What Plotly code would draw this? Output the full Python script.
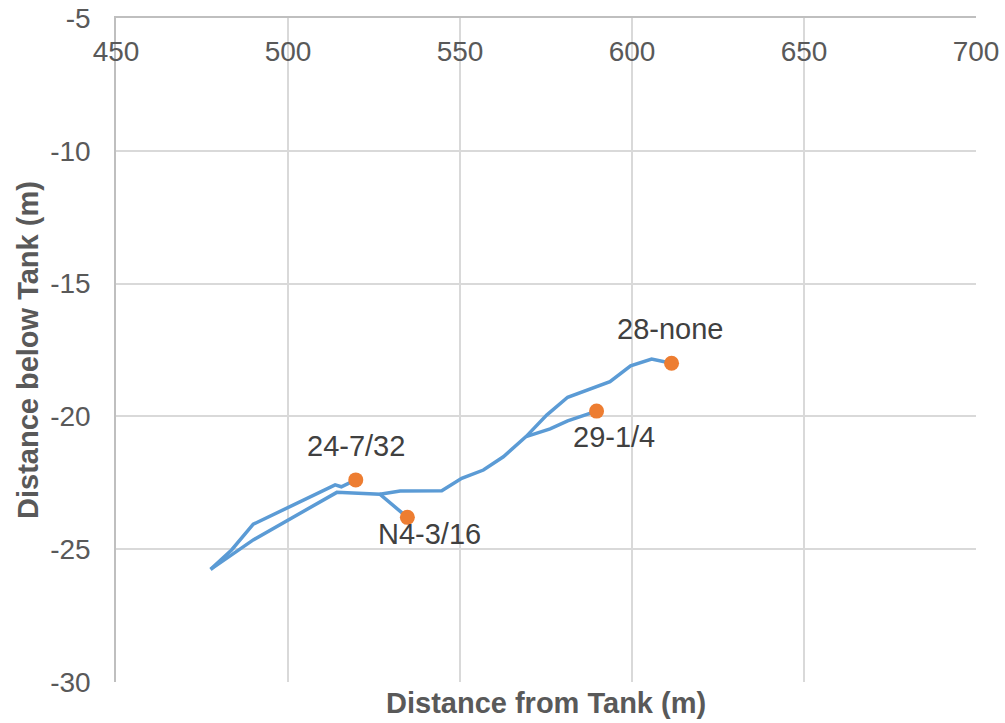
import plotly.graph_objects as go

# well paths (distance from tank, distance below tank)
path_a_x = [519.7, 515.5, 513.7, 489.9, 483.6, 477.5]
path_a_y = [-22.39, -22.65, -22.58, -24.06, -25.03, -25.76]

path_b_x = [477.5, 489.9, 514.2, 526.7, 534.7]
path_b_y = [-25.76, -24.65, -22.86, -22.93, -23.80]

path_c_x = [526.7, 532.6, 544.7, 550.5, 556.8, 562.6, 569.2, 575.2, 581.3, 593.6, 599.6, 605.7, 611.5]
path_c_y = [-22.93, -22.81, -22.80, -22.33, -22.02, -21.52, -20.76, -19.95, -19.28, -18.69, -18.10, -17.84, -18.00]

path_d_x = [569.2, 576.2, 581.3, 589.7]
path_d_y = [-20.76, -20.47, -20.17, -19.80]

# end points
end_x = [519.7, 534.7, 589.7, 611.5]
end_y = [-22.39, -23.80, -19.80, -18.00]
end_labels = ["24-7/32", "N4-3/16", "29-1/4", "28-none"]
label_shift = [(0, 34), (22, -17), (17, -26), (-2, 34)]

x_ticks = [450, 500, 550, 600, 650, 700]
y_ticks = [-30, -25, -20, -15, -10, -5]
y_tick_text = [str(v) for v in y_ticks]

BLUE = "#5B9BD5"
ORANGE = "#ED7D31"
FONT = "Liberation Sans, Arial, sans-serif"

fig = go.Figure()

for px, py in [(path_a_x, path_a_y), (path_b_x, path_b_y),
               (path_c_x, path_c_y), (path_d_x, path_d_y)]:
    fig.add_trace(go.Scatter(
        x=px, y=py, mode="lines",
        line=dict(color=BLUE, width=3.5),
        showlegend=False, hoverinfo="skip"
    ))

fig.add_trace(go.Scatter(
    x=end_x, y=end_y, mode="markers",
    marker=dict(color=ORANGE, size=15),
    showlegend=False
))

for x, y, t, (dx, dy) in zip(end_x, end_y, end_labels, label_shift):
    fig.add_annotation(
        x=x, y=y, text=t, showarrow=False,
        xshift=dx, yshift=dy,
        font=dict(family=FONT, size=29, color="#404040")
    )

# axis titles as annotations (x axis lives on top, its title at the bottom)
fig.add_annotation(
    xref="paper", yref="paper", x=0.5, y=0, yanchor="top", yshift=-3,
    text="<b>Distance from Tank (m)</b>", showarrow=False,
    font=dict(family=FONT, size=29, color="#595959")
)
fig.add_annotation(
    xref="paper", yref="paper", x=0, y=0.5, xanchor="center", xshift=-88,
    text="<b>Distance below Tank (m)</b>", showarrow=False, textangle=-90,
    font=dict(family=FONT, size=29, color="#595959")
)

fig.update_layout(
    width=1005, height=723,
    paper_bgcolor="white", plot_bgcolor="white",
    margin=dict(l=116, r=29, t=18, b=41),
    font=dict(family=FONT, size=28, color="#595959"),
    xaxis=dict(
        side="top", range=[450, 700], tickvals=x_ticks,
        showticklabels=False, ticks="", automargin=False,
        showgrid=True, gridcolor="#D9D9D9", gridwidth=1.5,
        showline=True, linecolor="#BFBFBF", linewidth=1.5,
        zeroline=False
    ),
    # tick labels hang just under the top axis line
    xaxis2=dict(
        overlaying="x", matches="x", anchor="free", position=0.979,
        side="bottom", tickvals=x_ticks, ticks="", automargin=False,
        showgrid=False, showline=False, zeroline=False,
        tickfont=dict(size=28, color="#595959")
    ),
    yaxis=dict(
        range=[-30, -5], tickvals=y_ticks, ticktext=y_tick_text, ticks="",
        showgrid=True, gridcolor="#D9D9D9", gridwidth=1.5,
        showline=True, linecolor="#BFBFBF", linewidth=1.5,
        zeroline=False, ticklabelstandoff=18, automargin=False,
        tickfont=dict(size=28, color="#595959")
    )
)

# an empty trace keeps the second x axis drawn
fig.add_trace(go.Scatter(x=[], y=[], xaxis="x2", showlegend=False))

fig.write_html("out.html", config={"displayModeBar": False},
               post_script="document.body.style.margin='0';")
